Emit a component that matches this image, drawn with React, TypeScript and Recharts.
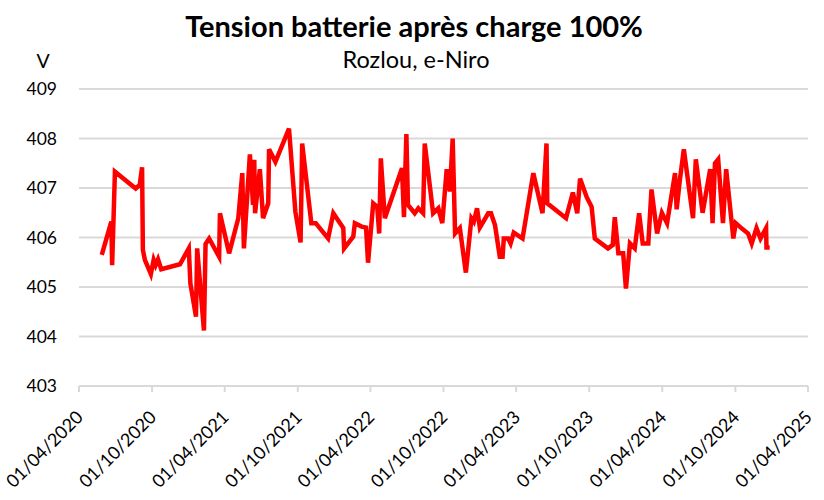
import React from "react";
import { LineChart, Line, XAxis, YAxis, CartesianGrid } from "recharts";

const dates = [
  "2020-05-28", "2020-06-21", "2020-06-23", "2020-06-30", "2020-08-21", "2020-08-31",
  "2020-09-06", "2020-09-08", "2020-09-13", "2020-09-28", "2020-10-05", "2020-10-10",
  "2020-10-16", "2020-10-24", "2020-12-10", "2021-01-01", "2021-01-05", "2021-01-19",
  "2021-01-22", "2021-02-08", "2021-02-12", "2021-02-21", "2021-03-18", "2021-03-20",
  "2021-04-12", "2021-05-05", "2021-05-15", "2021-05-19", "2021-06-03", "2021-06-11",
  "2021-06-14", "2021-06-16", "2021-06-28", "2021-07-06", "2021-07-19", "2021-07-21",
  "2021-08-06", "2021-09-09", "2021-09-25", "2021-10-08", "2021-10-12", "2021-11-04",
  "2021-11-15", "2021-12-16", "2021-12-29", "2022-01-23", "2022-01-25", "2022-02-17",
  "2022-02-21", "2022-03-10", "2022-03-21", "2022-03-26", "2022-04-08", "2022-04-18",
  "2022-04-23", "2022-04-27", "2022-05-07", "2022-06-19", "2022-06-24", "2022-06-30",
  "2022-07-04", "2022-07-21", "2022-07-30", "2022-08-11", "2022-08-15", "2022-09-05",
  "2022-09-18", "2022-09-28", "2022-10-09", "2022-10-17", "2022-10-24", "2022-10-30",
  "2022-11-11", "2022-11-26", "2022-12-10", "2022-12-16", "2022-12-24", "2022-12-31",
  "2023-01-21", "2023-01-28", "2023-02-07", "2023-02-19", "2023-02-26", "2023-03-01",
  "2023-03-12", "2023-03-18", "2023-03-26", "2023-04-17", "2023-05-14", "2023-06-06",
  "2023-06-16", "2023-06-18", "2023-08-04", "2023-08-21", "2023-09-01", "2023-09-08",
  "2023-09-25", "2023-10-07", "2023-10-15", "2023-11-17", "2023-11-29", "2023-12-04",
  "2023-12-13", "2023-12-25", "2024-01-01", "2024-01-11", "2024-01-23", "2024-02-03",
  "2024-02-12", "2024-02-26", "2024-03-05", "2024-03-19", "2024-03-31", "2024-04-13",
  "2024-05-03", "2024-05-07", "2024-05-15", "2024-05-25", "2024-06-17", "2024-06-24",
  "2024-07-11", "2024-07-30", "2024-08-05", "2024-08-11", "2024-08-19", "2024-08-31",
  "2024-09-08", "2024-09-26", "2024-10-02", "2024-10-19", "2024-11-02", "2024-11-11",
  "2024-11-23", "2024-12-03", "2024-12-17", "2024-12-18", "2024-12-26",
];

const volts = [
  405.65, 406.32, 405.44, 407.33, 406.99, 407.06,
  407.42, 405.75, 405.55, 405.26, 405.55, 405.44,
  405.56, 405.36, 405.46, 405.78, 405.07, 404.4,
  405.78, 404.12, 405.87, 405.98, 405.61, 406.49,
  405.68, 406.39, 407.3, 405.78, 407.68, 406.66,
  407.57, 406.49, 407.38, 406.39, 406.69, 407.78,
  407.53, 408.2, 406.52, 405.9, 407.9, 406.29,
  406.29, 405.98, 406.49, 406.19, 405.78, 406.02,
  406.29, 406.22, 406.2, 405.49, 406.69, 406.62,
  406.08, 407.6, 406.39, 407.4, 406.41, 408.09,
  406.66, 406.49, 406.59, 406.49, 407.9, 406.49,
  406.59, 406.29, 407.38, 406.93, 408.0, 406.08,
  406.19, 405.29, 406.39, 406.32, 406.59, 406.2,
  406.49, 406.49, 406.25, 405.61, 405.61, 405.98,
  405.98, 405.88, 406.1, 405.98, 407.3, 406.49,
  407.9, 406.69, 406.39, 406.91, 406.49, 407.19,
  406.81, 406.62, 405.98, 405.78, 405.85, 406.41,
  405.68, 405.68, 404.97, 405.88, 405.78, 406.49,
  405.88, 405.88, 406.97, 406.08, 406.5, 406.29,
  407.3, 406.57, 407.16, 407.78, 406.39, 407.58,
  406.5, 407.38, 406.29, 407.5, 407.58, 406.29,
  407.38, 405.98, 406.29, 406.17, 406.08, 405.88,
  406.19, 405.98, 406.19, 405.8, 405.8,
];

const tickDates = [
  "2020-04-01", "2020-10-01", "2021-04-01", "2021-10-01", "2022-04-01", "2022-10-01",
  "2023-04-01", "2023-10-01", "2024-04-01", "2024-10-01", "2025-04-01",
];
const yTicks = [403, 404, 405, 406, 407, 408, 409];

const toTime = (s: string) => new Date(s + "T00:00:00Z").getTime();

const data = dates.map((d, i) => ({ t: toTime(d), v: volts[i] }));
const xTicks = tickDates.map(toTime);

const fmt = (t: number) => {
  const d = new Date(t);
  const dd = String(d.getUTCDate()).padStart(2, "0");
  const mm = String(d.getUTCMonth() + 1).padStart(2, "0");
  return `${dd}/${mm}/${d.getUTCFullYear()}`;
};

const font = "Lato, 'Open Sans', sans-serif";

function DateTick(props: any) {
  const { x, y, payload } = props;
  return (
    <g transform={`translate(${x + 1},${y + 20})`}>
      <text
        transform="rotate(-45)"
        textAnchor="end"
        dy={6}
        fill="#000"
        fontSize={18}
        fontFamily={font}
      >
        {fmt(payload.value)}
      </text>
    </g>
  );
}

export default function App() {
  return (
    <div style={{ position: "absolute", left: 0, top: 0, width: 824, height: 500, background: "#fff" }}>
      <LineChart width={824} height={500} data={data} margin={{ top: 89, right: 16, left: 0, bottom: 0 }}>
        <CartesianGrid vertical={false} stroke="#d9d9d9" strokeWidth={2} />
        <XAxis
          dataKey="t"
          type="number"
          scale="time"
          domain={[xTicks[0], xTicks[xTicks.length - 1]]}
          ticks={xTicks}
          interval={0}
          stroke="#d9d9d9"
          strokeWidth={2}
          tickSize={6}
          tick={<DateTick />}
          height={114}
        />
        <YAxis
          domain={[403, 409]}
          ticks={yTicks}
          width={79}
          axisLine={false}
          tickLine={false}
          tickMargin={16}
          tick={{ fill: "#000", fontSize: 17.5, fontFamily: font }}
        />
        <Line
          type="linear"
          dataKey="v"
          stroke="#ff0000"
          strokeWidth={4.5}
          dot={false}
          isAnimationActive={false}
        />
      </LineChart>
      <svg
        width={824}
        height={90}
        style={{ position: "absolute", left: 0, top: 0, pointerEvents: "none" }}
      >
        <text x={414} y={37} textAnchor="middle" fontFamily={font} fontWeight={700} fontSize={29} fill="#000">
          Tension batterie après charge 100%
        </text>
        <text x={416} y={68} textAnchor="middle" fontFamily={font} fontSize={23.5} fill="#000">
          Rozlou, e-Niro
        </text>
        <text x={43} y={68} textAnchor="middle" fontFamily={font} fontSize={19.5} fill="#000">
          V
        </text>
      </svg>
    </div>
  );
}
